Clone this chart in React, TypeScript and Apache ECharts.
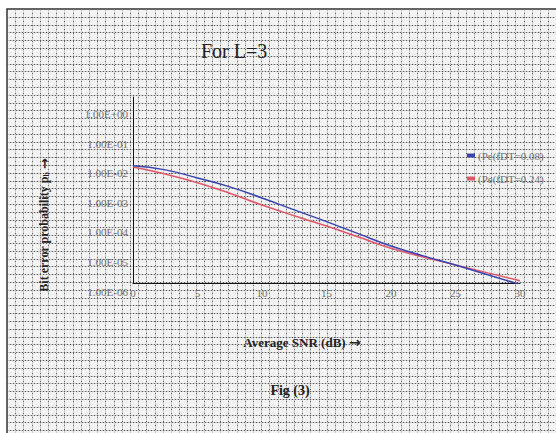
import React, { useEffect, useRef } from "react";
import * as echarts from "echarts";

// ---- data ----
const snrDb = [0, 2.5, 5, 7.5, 10, 12.5, 15, 17.5, 20, 22.5, 25, 27.5, 30];
const pe008 = [9.3e-3, 6.8e-3, 3.6e-3, 1.8e-3, 7.6e-4, 3.0e-4, 1.2e-4, 4.6e-5, 1.8e-5, 8.3e-6, 4.1e-6, 1.9e-6, 8.9e-7];
const pe024 = [8.5e-3, 4.9e-3, 2.5e-3, 1.1e-3, 4.4e-4, 1.9e-4, 8.5e-5, 3.6e-5, 1.5e-5, 7.6e-6, 4.1e-6, 2.2e-6, 1.2e-6];
const seriesNames = ["(Pe(fDT=0.08)", "(Pe(fDT=0.24)"];
const xTicks = [0, 5, 10, 15, 20, 25, 30];
const yTickExponents = [0, -1, -2, -3, -4, -5, -6];

const W = 556;
const H = 433;
const SERIF = "'Liberation Serif', 'Times New Roman', serif";
const ARROW_FONT = "'DejaVu Sans', sans-serif";

function formatExp(v: number): string {
  const e = Math.round(Math.log10(v));
  if (!yTickExponents.includes(e) || Math.abs(Math.log10(v) - e) > 1e-6) return "";
  const sign = e < 0 ? "-" : "+";
  const abs = Math.abs(e);
  return "1.00E" + sign + (abs < 10 ? "0" + abs : String(abs));
}

function buildBackground(): any[] {
  const els: any[] = [];
  const fx = 7;
  const fy = 9;
  els.push({
    type: "rect",
    z: -20,
    shape: { x: fx, y: fy, width: W - fx + 2, height: H - fy + 2 },
    style: { fill: "#f3f3f3", stroke: "#333", lineWidth: 1.5 },
    silent: true,
  });
  const dx = 8.2;
  const dy = 7.8;
  for (let x = fx + dx; x < W; x += dx) {
    const xx = Math.round(x) + 0.5;
    els.push({
      type: "line", z: -19, silent: true,
      shape: { x1: xx, y1: fy, x2: xx, y2: H },
      style: { stroke: "#c8c8c8", lineWidth: 1 },
    });
    els.push({
      type: "line", z: -18, silent: true,
      shape: { x1: xx, y1: fy, x2: xx, y2: H },
      style: { stroke: "#6e6e6e", lineWidth: 1, lineDash: [1, 3] },
    });
  }
  for (let y = fy + dy; y < H; y += dy) {
    const yy = Math.round(y) + 0.5;
    els.push({
      type: "line", z: -19, silent: true,
      shape: { x1: fx, y1: yy, x2: W, y2: yy },
      style: { stroke: "#c8c8c8", lineWidth: 1 },
    });
    els.push({
      type: "line", z: -18, silent: true,
      shape: { x1: fx, y1: yy, x2: W, y2: yy },
      style: { stroke: "#5a5a5a", lineWidth: 1, lineDash: [1, 2] },
    });
  }
  return els;
}

export default function App() {
  const ref = useRef<HTMLDivElement>(null);

  useEffect(() => {
    if (!ref.current) return;
    const chart = echarts.init(ref.current, undefined, { renderer: "svg" });
    const option: any = {
      animation: false,
      backgroundColor: "#ffffff",
      title: {
        text: "For L=3",
        left: 196,
        top: 36,
        textStyle: { fontFamily: SERIF, fontSize: 20, fontWeight: "normal", color: "#222" },
      },
      legend: {
        orient: "vertical",
        left: 462,
        top: 145,
        itemWidth: 8,
        itemHeight: 4,
        itemGap: 12,
        icon: "rect",
        data: seriesNames,
        textStyle: { fontFamily: SERIF, fontSize: 11, color: "#6f6f6f", padding: [0, 0, 0, -2] },
      },
      grid: { left: 133, right: 36, top: 97, bottom: 150, containLabel: false },
      xAxis: {
        type: "value",
        min: 0,
        max: 30,
        interval: 5,
        axisLine: { show: true, onZero: false, lineStyle: { color: "#111", width: 1 } },
        axisTick: { show: false },
        splitLine: { show: false },
        axisLabel: {
          margin: 4,
          fontFamily: SERIF,
          fontSize: 11,
          color: "#6f6f6f",
          formatter: (v: number) => (xTicks.includes(v) ? String(v) : ""),
        },
      },
      yAxis: {
        type: "log",
        logBase: 10,
        min: 1e-6,
        max: 2,
        axisLine: { show: true, lineStyle: { color: "#111", width: 1 } },
        axisTick: { show: false },
        splitLine: { show: false },
        minorTick: { show: false },
        axisLabel: {
          margin: 5,
          verticalAlign: "top",
          padding: [3, 0, 0, 0],
          fontFamily: SERIF,
          fontSize: 11,
          color: "#6f6f6f",
          formatter: (v: number) => formatExp(v),
        },
      },
      graphic: [
        ...buildBackground(),
        {
          type: "text",
          z: 10,
          x: 44,
          y: 225,
          rotation: Math.PI / 2,
          style: {
            text: "Bit error probability p{s|b} {a|→}",
            fontFamily: SERIF,
            fontSize: 12,
            fontWeight: "bold",
            fill: "#222",
            align: "center",
            verticalAlign: "middle",
            rich: {
              s: { fontFamily: SERIF, fontSize: 8, fontWeight: "bold", fill: "#222", verticalAlign: "bottom", padding: [4, 0, 0, 0] },
              a: { fontFamily: ARROW_FONT, fontSize: 13, fontWeight: "bold", fill: "#222" },
            },
          },
        },
        {
          type: "text",
          z: 10,
          x: 302,
          y: 342,
          style: {
            text: "Average SNR (dB) {a|→}",
            fontFamily: SERIF,
            fontSize: 13,
            fontWeight: "bold",
            fill: "#222",
            align: "center",
            verticalAlign: "middle",
            rich: {
              a: { fontFamily: ARROW_FONT, fontSize: 14, fontWeight: "bold", fill: "#222" },
            },
          },
        },
        {
          type: "text",
          z: 10,
          x: 290,
          y: 390,
          style: {
            text: "Fig (3)",
            fontFamily: SERIF,
            fontSize: 14,
            fontWeight: "bold",
            fill: "#222",
            align: "center",
            verticalAlign: "middle",
          },
        },
      ],
      series: [
        {
          name: seriesNames[0],
          type: "line",
          smooth: true,
          symbol: "none",
          clip: true,
          lineStyle: { color: "#3a44b0", width: 1.5 },
          itemStyle: { color: "#3a44b0" },
          data: snrDb.map((x, i) => [x, pe008[i]]),
          z: 5,
        },
        {
          name: seriesNames[1],
          type: "line",
          smooth: true,
          symbol: "none",
          clip: true,
          lineStyle: { color: "#e0566a", width: 1.5 },
          itemStyle: { color: "#e0566a" },
          data: snrDb.map((x, i) => [x, pe024[i]]),
          z: 4,
        },
      ],
    };
    chart.setOption(option);
    return () => chart.dispose();
  }, []);

  return (
    <div
      ref={ref}
      style={{ position: "fixed", left: 0, top: 0, width: W, height: H }}
    />
  );
}
